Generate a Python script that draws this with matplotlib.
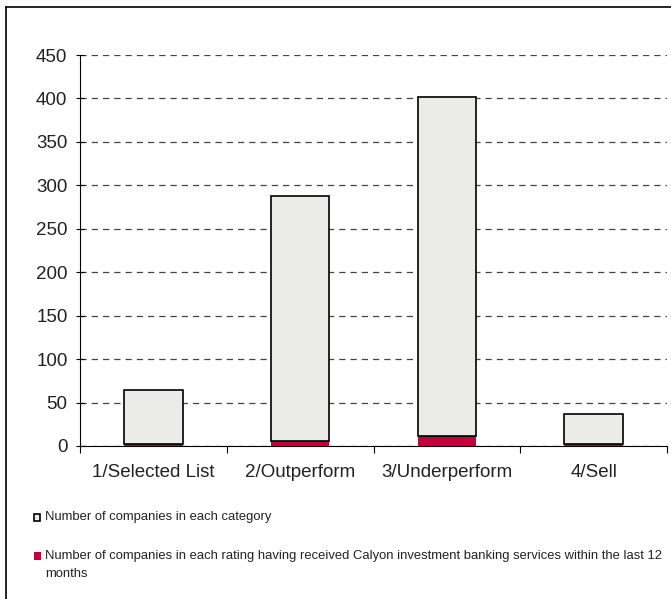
import matplotlib.pyplot as plt
from matplotlib.patches import Rectangle
from matplotlib.lines import Line2D

plt.rcParams['font.family'] = ['Liberation Sans', 'DejaVu Sans']

# Data
categories = ["1/Selected List", "2/Outperform", "3/Underperform", "4/Sell"]
total_companies = [65, 288, 402, 37]
banking_companies = [2, 6, 12, 2]

gray = "#ebecea"
red = "#c4003c"

fig = plt.figure(figsize=(6.71, 5.99), dpi=100)
ax = fig.add_axes([80 / 671, 153 / 599, 587 / 671, 391 / 599])

x = range(len(categories))
rest = [t - b for t, b in zip(total_companies, banking_companies)]
ax.bar(x, banking_companies, width=0.4, color=red, edgecolor="none", zorder=3)
ax.bar(x, rest, bottom=banking_companies, width=0.4, color=gray,
       edgecolor="black", linewidth=1.2, zorder=3)

ax.set_xlim(-0.5, 3.5)
ax.set_ylim(0, 450)
ax.set_yticks(range(0, 451, 50))
ax.yaxis.grid(True, linestyle=(0, (5, 4)), color="#444444", linewidth=0.9)
ax.set_axisbelow(True)

ax.set_xticks([-0.5, 0.5, 1.5, 2.5, 3.5])
ax.set_xticklabels([])
ax.set_xticks(list(x), minor=True)
ax.set_xticklabels(categories, minor=True, fontsize=13.5, color="#222222")
ax.tick_params(axis="x", which="major", direction="out", length=5)
ax.tick_params(axis="x", which="minor", length=0, pad=13)
ax.tick_params(axis="y", direction="inout", length=6, labelsize=13.5,
               labelcolor="#222222", pad=6)

for s in ["top", "right"]:
    ax.spines[s].set_visible(False)

# figure frame (left and top edges)
fig.add_artist(Line2D([6 / 671, 6 / 671], [0, 1 - 7 / 599], color="black",
                      linewidth=1.2, transform=fig.transFigure))
fig.add_artist(Line2D([6 / 671, 1], [1 - 7 / 599, 1 - 7 / 599], color="black",
                      linewidth=1.2, transform=fig.transFigure))

# legend
fig.add_artist(Rectangle((34 / 671, 1 - 521 / 599), 6 / 671, 7 / 599,
                         facecolor=gray, edgecolor="black", linewidth=1.2,
                         transform=fig.transFigure))
fig.text(45 / 671, 1 - 517 / 599, "Number of companies in each category",
         fontsize=9.4, va="center", color="#222222")
fig.add_artist(Rectangle((34 / 671, 1 - 560 / 599), 7 / 671, 8 / 599,
                         facecolor=red, edgecolor="none",
                         transform=fig.transFigure))
fig.text(45 / 671, 1 - 556 / 599,
         "Number of companies in each rating having received Calyon investment banking services within the last 12",
         fontsize=9.4, va="center", color="#222222")
fig.text(45 / 671, 1 - 574 / 599, "months", fontsize=9.4, va="center", color="#222222")

fig.savefig("out.png", dpi=100)
